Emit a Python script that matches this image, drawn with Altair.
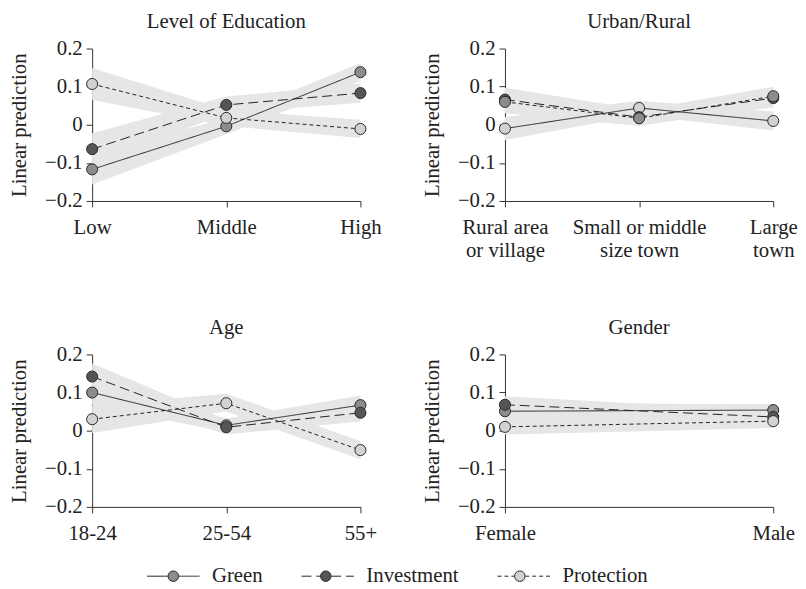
import altair as alt
import pandas as pd

SERIES = ["Green", "Investment", "Protection"]

# ---- Level of Education ----
edu_cats = ["Low", "Middle", "High"]
edu_green = [-0.117, -0.004, 0.138]
edu_green_lo = [-0.157, -0.025, 0.114]
edu_green_hi = [-0.077, 0.017, 0.162]
edu_inv = [-0.064, 0.052, 0.083]
edu_inv_lo = [-0.105, 0.030, 0.058]
edu_inv_hi = [-0.022, 0.074, 0.108]
edu_prot = [0.107, 0.018, -0.011]
edu_prot_lo = [0.065, -0.003, -0.035]
edu_prot_hi = [0.149, 0.039, 0.013]
edu_markers = ["Green", "Investment", "Protection"]

# ---- Urban/Rural ----
urb_cats = ["Rural area|or village", "Small or middle|size town", "Large|town"]
urb_green = [-0.010, 0.044, 0.010]
urb_green_lo = [-0.040, 0.025, -0.015]
urb_green_hi = [0.020, 0.063, 0.035]
urb_inv = [0.066, 0.020, 0.070]
urb_inv_lo = [0.035, 0.000, 0.045]
urb_inv_hi = [0.097, 0.040, 0.095]
urb_prot = [0.060, 0.017, 0.075]
urb_prot_lo = [0.030, -0.003, 0.050]
urb_prot_hi = [0.090, 0.037, 0.100]
urb_markers = ["Protection", "Investment", "Green"]

# ---- Age ----
age_cats = ["18-24", "25-54", "55+"]
age_green = [0.100, 0.014, 0.067]
age_green_lo = [0.068, -0.004, 0.042]
age_green_hi = [0.132, 0.032, 0.092]
age_inv = [0.142, 0.009, 0.047]
age_inv_lo = [0.108, -0.010, 0.024]
age_inv_hi = [0.176, 0.028, 0.070]
age_prot = [0.030, 0.072, -0.051]
age_prot_lo = [-0.006, 0.050, -0.075]
age_prot_hi = [0.066, 0.097, -0.027]
age_markers = ["Green", "Investment", "Protection"]

# ---- Gender ----
gen_cats = ["Female", "Male"]
gen_green = [0.051, 0.054]
gen_green_lo = [0.030, 0.038]
gen_green_hi = [0.072, 0.070]
gen_inv = [0.068, 0.036]
gen_inv_lo = [0.046, 0.020]
gen_inv_hi = [0.090, 0.052]
gen_prot = [0.010, 0.025]
gen_prot_lo = [-0.010, 0.007]
gen_prot_hi = [0.030, 0.043]
gen_markers = ["Green", "Investment", "Protection"]

y_ticks = [-0.2, -0.1, 0, 0.1, 0.2]

FONT = "Liberation Serif"
INK = "#222222"


def build(cats, vals, los, his, markers):
    rows = []
    for s, v, lo, hi, m in zip(SERIES, vals, los, his, markers):
        for c, a, b, d in zip(cats, v, lo, hi):
            rows.append({"cat": c, "series": s, "marker": m, "value": a, "lo": b, "hi": d})
    return pd.DataFrame(rows)


LX, LY = 55, 506
dash_legend = alt.Legend(
    title=None, orient="none", direction="horizontal", legendX=LX, legendY=LY,
    symbolType="stroke", symbolSize=2809, symbolStrokeColor=INK, symbolStrokeWidth=1,
    labelOffset=12, columnPadding=36, labelFont=FONT, labelFontSize=21, labelColor=INK,
    zindex=1,
)
fill_legend = alt.Legend(
    title=None, orient="none", direction="horizontal", legendX=LX, legendY=LY,
    symbolType="M0.2,0A0.2,0.2,0,1,1,-0.2,0A0.2,0.2,0,1,1,0.2,0Z",
    symbolSize=2809, symbolStrokeColor="#2b2b2b", symbolStrokeWidth=1, symbolOpacity=1,
    labelOffset=12, columnPadding=36, labelFont=FONT, labelFontSize=21, labelOpacity=0,
    zindex=2,
)

yscale = alt.Scale(domain=[-0.2, 0.2], nice=False, zero=False)
yaxis = alt.Axis(
    values=y_ticks, labelExpr="datum.value == 0 ? '0' : format(datum.value, '.1f')",
    grid=False, tickSize=6, labelPadding=4, titlePadding=15,
    labelFont=FONT, labelFontSize=21, labelColor=INK, titleFont=FONT, titleFontSize=21,
    titleFontWeight="normal", titleColor=INK, domainColor="#333333", tickColor="#333333",
)


def panel(df, cats, title):
    xenc = alt.X(
        "cat:N", sort=cats, title=None,
        scale=alt.Scale(type="point", padding=0),
        axis=alt.Axis(labelAngle=0, labelExpr="split(datum.label, '|')", tickSize=6,
                      labelPadding=10, labelLineHeight=23, grid=False,
                      labelFont=FONT, labelFontSize=21, labelColor=INK,
                      domainColor="#333333", tickColor="#333333"),
    )
    base = alt.Chart(df).encode(x=xenc)
    band = base.mark_area(color="#e6e6e6", opacity=1).encode(
        y=alt.Y("lo:Q", title="Linear prediction", scale=yscale, axis=yaxis),
        y2="hi:Q",
        detail="series:N",
    )
    line = base.mark_line(color=INK, strokeWidth=1).encode(
        y=alt.Y("value:Q", title="Linear prediction", scale=yscale, axis=yaxis),
        strokeDash=alt.StrokeDash(
            "series:N",
            scale=alt.Scale(domain=SERIES, range=[[1, 0], [10, 5], [4, 3]]),
            legend=dash_legend,
        ),
    )
    pts = base.mark_circle(size=125, stroke="#2b2b2b", strokeWidth=1, opacity=1).encode(
        y=alt.Y("value:Q", title="Linear prediction", scale=yscale, axis=yaxis),
        fill=alt.Fill(
            "marker:N",
            sort="ascending",
            scale=alt.Scale(range=["#8c8c8c", "#555555", "#d2d2d2"]),
            legend=fill_legend,
        ),
    )
    return alt.layer(band, line, pts).properties(
        width=271, height=154,
        title=alt.Title(title, fontSize=21, font=FONT, fontWeight="normal", color=INK,
                        anchor="middle", frame="group", baseline="bottom", offset=-15),
    )


p1 = panel(build(edu_cats, [edu_green, edu_inv, edu_prot], [edu_green_lo, edu_inv_lo, edu_prot_lo],
                 [edu_green_hi, edu_inv_hi, edu_prot_hi], edu_markers), edu_cats, "Level of Education")
p2 = panel(build(urb_cats, [urb_green, urb_inv, urb_prot], [urb_green_lo, urb_inv_lo, urb_prot_lo],
                 [urb_green_hi, urb_inv_hi, urb_prot_hi], urb_markers), urb_cats, "Urban/Rural")
p3 = panel(build(age_cats, [age_green, age_inv, age_prot], [age_green_lo, age_inv_lo, age_prot_lo],
                 [age_green_hi, age_inv_hi, age_prot_hi], age_markers), age_cats, "Age")
p4 = panel(build(gen_cats, [gen_green, gen_inv, gen_prot], [gen_green_lo, gen_inv_lo, gen_prot_lo],
                 [gen_green_hi, gen_inv_hi, gen_prot_hi], gen_markers), gen_cats, "Gender")

chart = alt.concat(
    p1, p2, p3, p4, columns=2,
    spacing=alt.RowColnumber(row=155, column=146), bounds="flush",
).properties(padding=0).configure_view(stroke=None)

chart.save("out.html", embed_options={"renderer": "svg", "actions": False})
